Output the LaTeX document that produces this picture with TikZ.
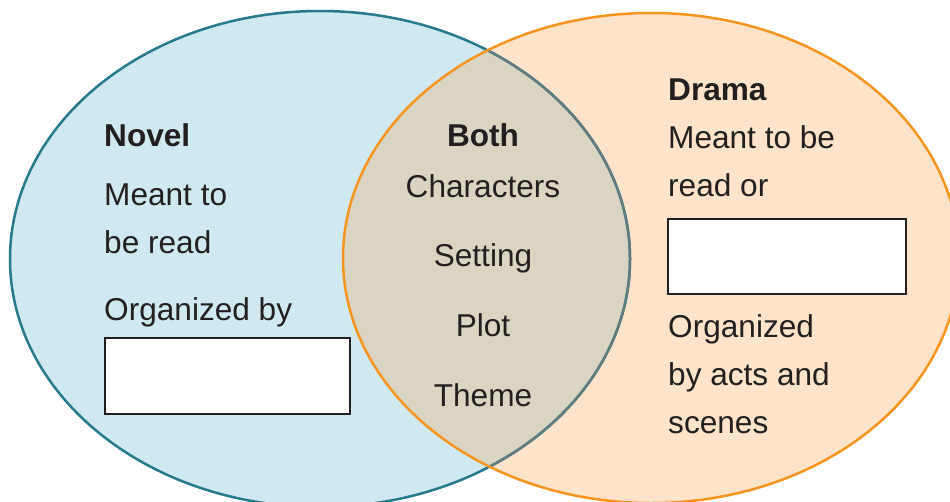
\documentclass[tikz,border=0pt]{standalone}
\usepackage{fontspec}
\setmainfont{Liberation Sans}
\definecolor{novelfill}{RGB}{208,232,240}
\definecolor{novelline}{RGB}{38,122,140}
\definecolor{dramafill}{RGB}{253,227,202}
\definecolor{dramaline}{RGB}{247,148,29}
\definecolor{bothfill}{RGB}{218,213,195}
\definecolor{bothline}{RGB}{96,124,126}
\definecolor{txt}{RGB}{35,31,32}
\tikzset{
  lbl/.style={anchor=base west, inner sep=0pt, text=txt, font=\fontsize{31.6}{37}\selectfont},
  ctr/.style={anchor=base, inner sep=0pt, text=txt, font=\fontsize{31.6}{37}\selectfont},
  head/.style={font=\fontsize{31.6}{37}\selectfont\bfseries},
  blank/.style={draw=txt, line width=2.2pt, fill=white, anchor=north west, inner sep=0pt},
}
\begin{document}
\begin{tikzpicture}[x=1pt,y=-1pt]
\useasboundingbox (0,0) rectangle (950,501);
\clip (0,0) rectangle (950,501);
\def\leftell{(320,259) ellipse [x radius=310pt, y radius=248pt]}
\def\rightell{(651,258) ellipse [x radius=308pt, y radius=245pt]}
\fill[novelfill] \leftell;
\fill[dramafill] \rightell;
\begin{scope}
  \clip \leftell;
  \fill[bothfill] \rightell;
\end{scope}
\draw[novelline, line width=2.5pt] \leftell;
\begin{scope}
  \clip \rightell;
  \draw[bothline, line width=2.5pt] \leftell;
\end{scope}
\draw[dramaline, line width=2.5pt] \rightell;

% Novel
\node[lbl, head] (novel) at (104,146) {Novel};
\node[lbl] (n1) at (104,205) {Meant to};
\node[lbl] (n2) at (104,253) {be read};
\node[lbl] (n3) at (104,320) {Organized by};
\node[blank, minimum width=245pt, minimum height=76pt] (nbox) at (104,337) {};

% Both
\node[ctr, head] (both) at (483,146) {Both};
\node[ctr] (b1) at (483,197) {Characters};
\node[ctr] (b2) at (483,266) {Setting};
\node[ctr] (b3) at (483,336) {Plot};
\node[ctr] (b4) at (483,406) {Theme};

% Drama
\node[lbl, head] (drama) at (668,100) {Drama};
\node[lbl] (d1) at (668,148) {Meant to be};
\node[lbl] (d2) at (668,196) {read or};
\node[blank, minimum width=238pt, minimum height=75pt] (dbox) at (667,218) {};
\node[lbl] (d3) at (668,337) {Organized};
\node[lbl] (d4) at (668,385) {by acts and};
\node[lbl] (d5) at (668,433) {scenes};
\end{tikzpicture}
\end{document}
